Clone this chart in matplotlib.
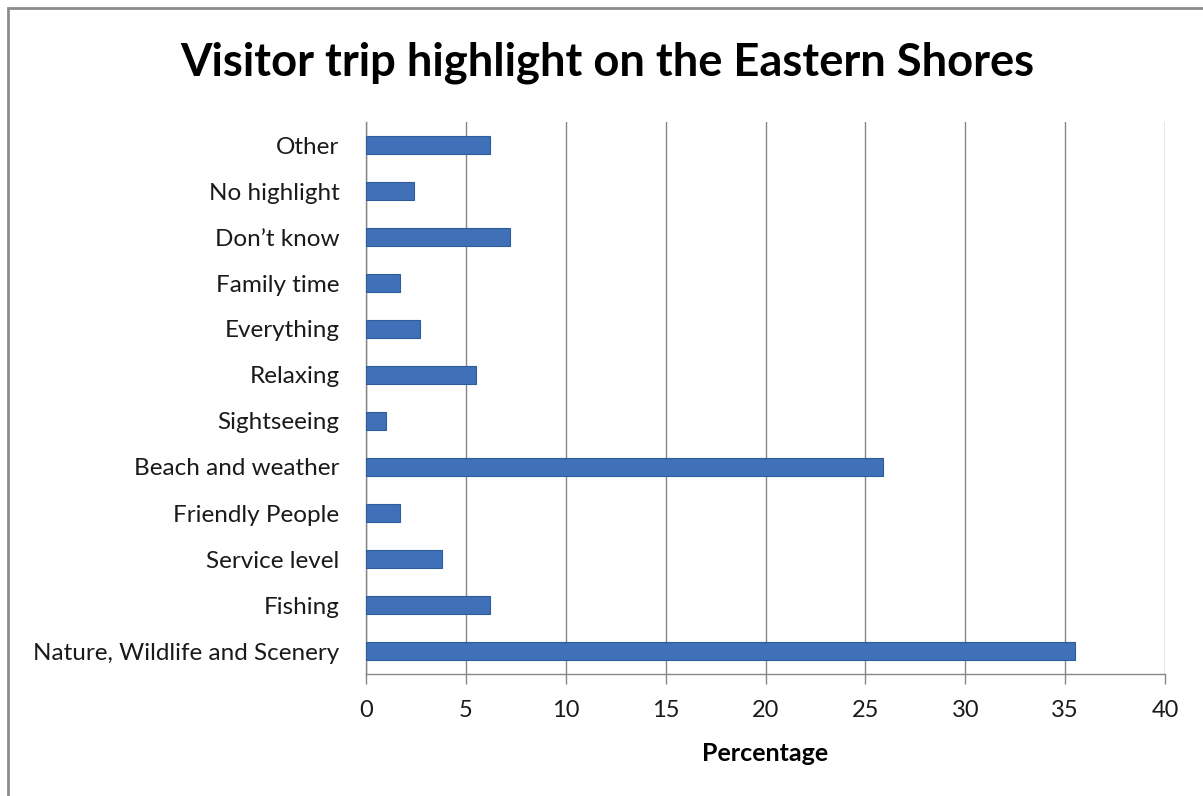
import matplotlib.pyplot as plt
import matplotlib as mpl
from matplotlib.patches import Rectangle

mpl.rcParams['font.family'] = ['Lato', 'DejaVu Sans']

categories = ['Nature, Wildlife and Scenery', 'Fishing', 'Service level',
              'Friendly People', 'Beach and weather', 'Sightseeing', 'Relaxing',
              'Everything', 'Family time', 'Don\u2019t know', 'No highlight', 'Other']
percentages = [35.5, 6.2, 3.8, 1.7, 25.9, 1.0, 5.5, 2.7, 1.7, 7.2, 2.4, 6.2]
x_ticks = [0, 5, 10, 15, 20, 25, 30, 35, 40]

fig = plt.figure(figsize=(12.03, 7.96), dpi=100)
fig.patches.append(Rectangle((8 / 1203, -0.1), 1.2, 1 - 8 / 796 + 0.1,
                             transform=fig.transFigure, fill=False,
                             edgecolor='#8c8c8c', linewidth=2))
ax = fig.add_axes([366 / 1203, 1 - 674 / 796, 799 / 1203, 552 / 796])

ypos = range(len(categories))
ax.barh(ypos, percentages, height=0.37, color='#3f70b8',
        edgecolor='#2f5d9c', linewidth=0.8, zorder=3)

ax.set_xlim(0, 40)
ax.set_ylim(-0.5, len(categories) - 0.5)
ax.set_xticks(x_ticks)
ax.set_yticks(list(ypos))
ax.set_yticklabels(categories)
ax.grid(axis='x', color='#868686', linewidth=1, zorder=0)

for side in ['top', 'right']:
    ax.spines[side].set_visible(False)
for side in ['left', 'bottom']:
    ax.spines[side].set_color('#868686')
    ax.spines[side].set_linewidth(1)

ax.tick_params(axis='y', length=0, pad=19, labelsize=17.5, labelcolor='#1a1a1a')
ax.tick_params(axis='x', length=7, width=1, color='#868686', pad=12,
               labelsize=17, labelcolor='#1a1a1a')
ax.set_xlabel('Percentage', fontsize=18, fontweight='bold', labelpad=15)

fig.text(0.505, 1 - 63 / 796, 'Visitor trip highlight on the Eastern Shores',
         ha='center', va='center', fontsize=32.7, fontweight='bold')

plt.savefig('out.png', dpi=100)
